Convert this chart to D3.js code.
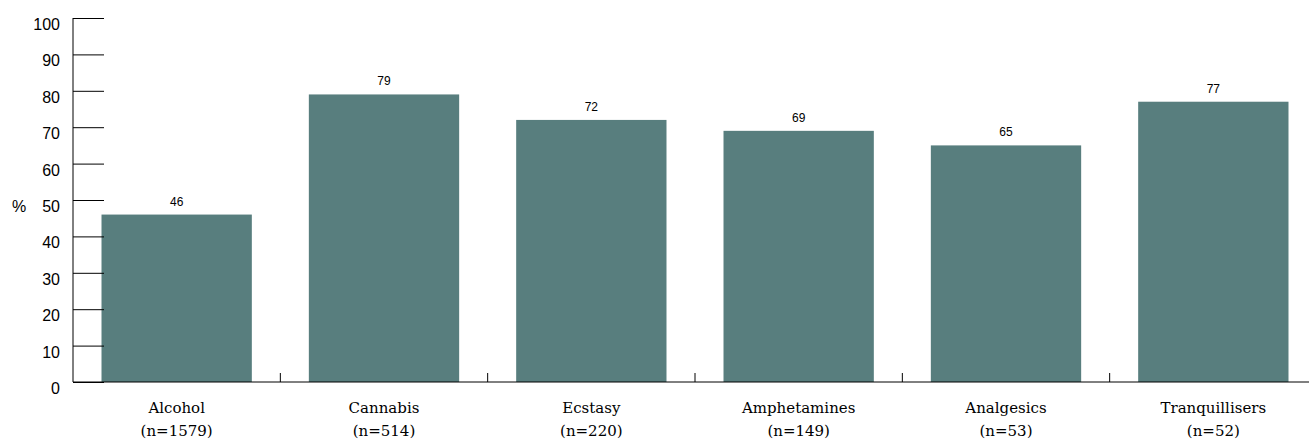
<!DOCTYPE html>
<html><head><meta charset="utf-8">
<script src="https://cdn.jsdelivr.net/npm/d3@7"></script>
<style>body{margin:0;background:#fff}svg{display:block}</style>
</head><body>
<script>
const categories = ["Alcohol","Cannabis","Ecstasy","Amphetamines","Analgesics","Tranquillisers"];
const sampleSizes = ["(n=1579)","(n=514)","(n=220)","(n=149)","(n=53)","(n=52)"];
const values = [46,79,72,69,65,77];
const yTicks = [0,10,20,30,40,50,60,70,80,90,100];

const W=1309,H=439;
const svg=d3.select("body").append("svg").attr("width",W).attr("height",H);
const x0=73, x1=1317, yTop=18, yBot=382;
const x=d3.scaleBand().domain(categories).range([x0,x1]).paddingInner(0.275).paddingOuter(0.1375);
const y=d3.scaleLinear().domain([0,100]).range([yBot,yTop]);
const color="#587e7e";

// bars
svg.selectAll("rect.bar").data(values).join("rect")
  .attr("x",(d,i)=>x(categories[i])).attr("width",x.bandwidth())
  .attr("y",d=>y(d)).attr("height",d=>yBot-y(d)).attr("fill",color);

// y axis
const ya=svg.append("g").attr("transform",`translate(${x0},0)`)
  .call(d3.axisRight(y).tickValues(yTicks).tickSize(31).tickFormat(""));
ya.select(".domain").remove();
ya.selectAll("line").attr("stroke","#000");
svg.append("line").attr("x1",x0).attr("x2",x0).attr("y1",yTop).attr("y2",yBot).attr("stroke","#000");
svg.selectAll("text.yl").data(yTicks).join("text").attr("class","yl")
  .attr("x",60).attr("y",d=>y(d)+12).attr("text-anchor","end")
  .attr("font-family","Liberation Sans, Arial, sans-serif").attr("font-size",16).text(d=>d);
svg.append("text").attr("x",12).attr("y",y(50)+12).attr("font-family","Liberation Sans, Arial, sans-serif").attr("font-size",16).text("%");

// x axis
svg.append("line").attr("x1",x0).attr("x2",W).attr("y1",yBot).attr("y2",yBot).attr("stroke","#000");
const step=x.step();
const sepData=categories.slice(1);
svg.selectAll("line.sep").data(sepData).join("line")
  .attr("x1",d=>x(d)-step*0.275/2).attr("x2",d=>x(d)-step*0.275/2)
  .attr("y1",yBot-9).attr("y2",yBot).attr("stroke","#000");

// category labels
const lab=svg.selectAll("text.cat").data(categories).join("text")
  .attr("text-anchor","middle").attr("font-family","DejaVu Serif, serif").attr("font-size",15);
lab.append("tspan").attr("x",d=>x(d)+x.bandwidth()/2).attr("y",413).text(d=>d);
lab.append("tspan").attr("x",d=>x(d)+x.bandwidth()/2).attr("y",436).text((d,i)=>sampleSizes[i]);

// value labels
svg.selectAll("text.val").data(values).join("text")
  .attr("x",(d,i)=>x(categories[i])+x.bandwidth()/2).attr("y",d=>y(d)-9)
  .attr("text-anchor","middle").attr("font-family","Liberation Sans, Arial, sans-serif").attr("font-size",12).text(d=>d);
</script>
</body></html>
